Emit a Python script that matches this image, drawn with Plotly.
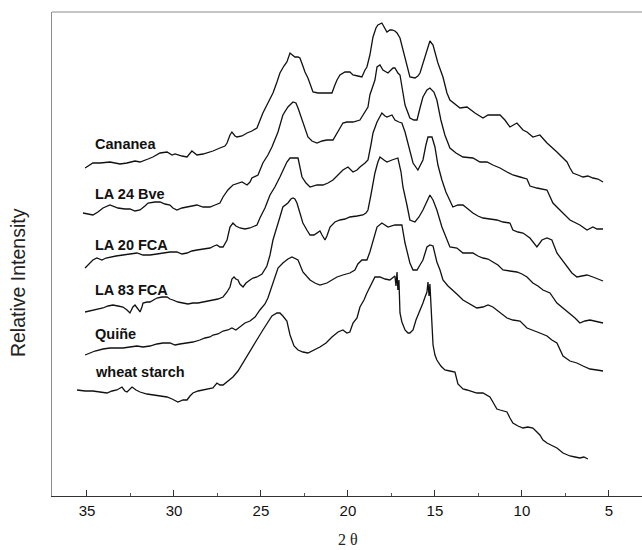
import plotly.graph_objects as go

# ---- data: 2-theta (deg) and relative intensity (a.u., stacked as plotted) ----
cananea_2t = [35.11,34.66,34.25,33.68,33.10,32.70,32.24,31.95,31.49,31.21,30.80,30.40,30.11,29.94,29.54,29.25,28.97,28.79,28.68,28.33,28.10,27.76,27.36,27.07,26.95,26.78,26.67,26.49,26.38,26.09,25.80,25.52,25.23,25.06,24.89,24.60,24.31,24.08,23.91,23.68,23.51,23.33,23.16,23.05,22.87,22.76,22.59,22.47,22.30,22.18,22.01,21.72,21.44,21.15,20.92,20.75,20.63,20.46,20.17,19.89,19.71,19.43,19.20,19.02,18.91,18.74,18.56,18.39,18.28,18.05,17.87,17.76,17.59,17.47,17.30,17.18,17.01,16.84,16.72,16.55,16.44,16.15,15.98,15.86,15.63,15.46,15.29,15.11,14.94,14.83,14.54,14.31,14.14,13.85,13.56,13.16,12.70,12.24,11.95,11.55,11.26,10.98,10.69,10.29,9.94,9.71,9.37,8.97,8.56,7.99,7.64,7.41,7.24,7.07,6.78,6.49,6.21,5.92,5.63,5.34]
cananea_i = [328,333,333,334,332,333,335,334,337,339,343,344,341,342,340,339,345,343,341,342,343,345,348,350,353,361,364,360,359,360,363,365,368,376,383,393,403,414,423,430,434,443,440,439,439,438,430,424,418,413,404,403,403,403,403,411,416,421,424,424,421,420,419,426,429,441,459,468,471,473,468,464,466,466,465,463,458,446,436,426,419,418,420,423,436,446,455,451,441,433,419,403,396,392,388,389,383,378,381,381,381,376,369,373,366,364,359,361,353,344,338,334,328,323,321,319,320,318,317,314]

la24_2t = [35.23,34.94,34.66,34.37,34.08,33.68,33.22,32.82,32.53,32.24,31.95,31.67,31.49,31.09,30.80,30.52,30.23,30.06,29.83,29.54,29.25,28.97,28.68,28.33,27.93,27.64,27.36,27.18,26.90,26.61,26.32,26.09,25.80,25.63,25.52,25.17,24.89,24.60,24.37,24.02,23.74,23.56,23.45,23.16,22.99,22.87,22.70,22.59,22.30,22.07,21.78,21.49,21.21,20.86,20.63,20.46,20.29,20.06,19.71,19.31,19.02,18.85,18.74,18.45,18.33,18.16,17.99,17.70,17.41,17.30,17.13,17.01,16.72,16.44,16.21,16.03,15.86,15.69,15.46,15.29,15.06,14.89,14.66,14.43,14.14,13.79,13.39,12.82,12.41,12.01,11.67,11.26,10.86,10.52,10.11,9.71,9.54,9.14,8.56,8.22,7.82,7.24,6.67,6.26,5.92,5.69,5.34]
la24_i = [283,282,281,284,288,291,288,287,287,285,286,290,293,294,294,292,291,288,286,288,289,290,291,289,289,291,293,299,306,311,313,314,311,314,318,321,333,341,349,364,381,386,389,394,393,388,379,373,359,355,353,355,356,356,363,368,373,374,374,376,384,389,401,416,429,431,426,423,428,428,423,421,391,378,376,376,388,399,406,408,404,396,376,361,348,343,339,338,334,334,331,328,324,321,319,317,310,308,306,293,286,276,271,266,269,267,267]

la20_2t = [35.11,34.94,34.83,34.66,34.43,34.14,33.91,33.68,33.33,32.93,32.53,32.13,31.78,31.38,30.98,30.63,30.23,29.83,29.54,29.25,28.97,28.68,28.33,27.93,27.70,27.53,27.36,27.18,26.95,26.78,26.61,26.44,26.21,25.92,25.63,25.23,25.06,24.77,24.48,24.20,23.91,23.68,23.51,23.33,23.05,22.87,22.64,22.41,22.18,21.78,21.44,21.15,20.86,20.57,20.29,20.00,19.71,19.48,19.31,19.02,18.85,18.68,18.56,18.33,18.16,18.05,17.87,17.76,17.47,17.30,17.07,16.90,16.72,16.61,16.44,16.26,15.98,15.86,15.69,15.52,15.40,15.17,15.00,14.83,14.60,14.37,14.14,13.97,13.68,13.39,13.10,12.82,12.53,12.24,11.84,11.44,11.09,10.69,10.52,10.23,9.94,9.54,9.14,8.85,8.56,8.28,7.99,7.70,7.41,7.13,6.84,6.55,6.26,5.92,5.63,5.34]
la20_i = [228,231,233,236,238,236,238,239,240,241,242,243,241,241,242,243,244,244,242,243,245,246,247,248,250,251,249,249,256,269,273,270,268,267,268,271,278,288,301,309,319,328,334,338,338,338,319,313,309,311,311,313,316,321,326,329,324,326,329,333,336,351,363,374,380,383,380,379,381,376,374,373,364,356,344,333,326,330,336,351,359,359,349,331,316,304,296,289,291,291,287,283,280,278,277,276,274,273,266,264,263,258,249,256,258,256,243,236,229,223,219,220,221,219,217,215]

la83_2t = [35.11,34.83,34.66,34.37,34.08,33.79,33.51,33.22,32.93,32.70,32.53,32.36,32.24,32.07,31.95,31.84,31.78,31.55,31.38,30.98,30.69,30.40,30.23,30.06,29.77,29.48,29.20,28.91,28.62,28.33,28.05,27.76,27.47,27.18,26.95,26.78,26.67,26.55,26.44,26.32,26.21,26.03,25.86,25.63,25.46,25.23,24.94,24.66,24.48,24.31,24.08,23.91,23.74,23.45,23.28,23.16,23.05,22.93,22.76,22.59,22.36,22.18,21.95,21.72,21.61,21.49,21.32,21.21,21.03,20.75,20.46,20.17,19.89,19.48,19.14,18.97,18.85,18.68,18.45,18.28,18.16,17.93,17.76,17.47,17.30,17.13,16.95,16.84,16.61,16.44,16.15,15.92,15.69,15.46,15.29,15.11,14.89,14.60,14.37,14.14,13.74,13.39,12.82,12.53,12.24,11.95,11.67,11.38,11.09,10.69,10.29,10.00,9.71,9.37,9.08,8.79,8.39,7.99,7.64,7.24,6.95,6.67,6.38,6.09,5.69,5.34]
la83_i = [184,185,186,187,188,190,191,190,189,186,183,189,191,187,184,189,193,194,194,198,199,199,197,196,194,193,192,193,193,194,195,196,197,199,204,209,217,219,217,216,212,209,213,216,218,219,222,230,241,256,268,279,289,293,297,298,297,293,283,273,266,261,261,264,265,261,256,260,269,274,276,277,279,280,281,283,286,301,323,334,339,336,334,336,337,338,324,309,291,276,274,279,286,295,301,296,286,269,258,249,248,243,243,240,238,237,234,231,226,225,224,222,219,213,210,206,203,193,188,183,178,173,175,176,174,173]

quine_2t = [35.11,34.83,34.54,34.08,33.68,33.28,32.93,32.53,32.13,31.78,31.38,30.98,30.63,30.23,29.94,29.66,29.25,28.91,28.51,28.22,27.93,27.76,27.47,27.18,26.90,26.67,26.44,26.21,25.92,25.63,25.34,25.06,24.77,24.60,24.31,24.02,23.74,23.45,23.22,22.99,22.87,22.59,22.36,22.18,21.90,21.61,21.21,20.92,20.63,20.29,19.89,19.60,19.43,19.20,18.91,18.74,18.56,18.33,18.05,17.87,17.70,17.30,16.90,16.72,16.55,16.44,16.26,16.03,15.86,15.69,15.46,15.29,15.11,14.89,14.71,14.54,14.25,13.97,13.68,13.39,12.99,12.59,12.24,11.95,11.67,11.26,10.86,10.52,10.11,9.71,9.37,8.97,8.56,8.28,7.99,7.64,7.24,6.84,6.49,6.09,5.69,5.34]
quine_i = [141,143,145,147,148,148,148,149,150,149,150,152,153,153,151,152,153,154,156,158,159,161,162,165,166,168,166,169,173,175,179,186,192,198,214,228,233,237,239,237,236,224,219,216,213,211,213,216,219,221,223,226,232,236,236,244,256,269,273,271,269,271,271,253,241,233,226,226,231,236,249,251,250,234,226,216,210,206,201,196,192,188,189,191,189,183,178,176,175,168,166,163,160,156,153,140,135,133,130,127,126,125]

wheat_2t = [35.57,35.11,34.66,34.25,33.85,33.56,33.28,32.99,32.82,32.70,32.53,32.41,32.18,31.95,31.55,31.21,30.80,30.40,30.11,29.77,29.48,29.25,29.08,28.91,28.62,28.33,28.05,27.76,27.53,27.36,27.18,26.90,26.61,26.32,26.03,25.75,25.46,25.17,24.89,24.60,24.37,24.08,23.91,23.74,23.51,23.33,23.10,22.87,22.59,22.30,21.95,21.61,21.26,20.92,20.57,20.29,20.06,19.89,19.71,19.48,19.31,19.08,18.91,18.68,18.45,18.16,17.87,17.59,17.41,17.30,17.24,17.18,17.13,17.07,17.01,16.90,16.72,16.55,16.44,16.26,16.09,15.86,15.69,15.57,15.46,15.40,15.34,15.29,15.23,15.17,15.11,15.00,14.89,14.66,14.43,14.14,13.85,13.68,13.39,13.16,12.82,12.59,12.24,11.84,11.67,11.44,11.26,10.86,10.69,10.52,10.23,9.94,9.66,9.37,9.14,8.97,8.79,8.56,8.22,7.99,7.64,7.24,6.95,6.67,6.44,6.21]
wheat_i = [106,105,105,104,103,105,106,109,105,104,107,109,106,104,102,101,100,99,97,94,96,96,100,103,105,106,107,108,113,111,111,115,119,125,133,141,149,158,166,174,180,183,183,180,175,161,150,146,144,143,146,149,153,159,164,166,163,164,173,178,189,196,203,211,219,219,217,216,218,220,210,224,206,216,183,174,166,163,163,166,176,185,193,199,204,214,200,212,191,178,151,141,136,130,126,125,124,112,107,106,104,103,103,99,94,87,86,84,78,73,70,68,69,68,64,61,56,53,50,48,43,40,39,38,39,37]

series = [
    ("Cananea", cananea_2t, cananea_i),
    ("LA 24 Bve", la24_2t, la24_i),
    ("LA 20 FCA", la20_2t, la20_i),
    ("LA 83 FCA", la83_2t, la83_i),
    ("Quiñe", quine_2t, quine_i),
    ("wheat starch", wheat_2t, wheat_i),
]
label_x = 34.66
label_y = [352, 302, 251, 206, 162, 124]
x_ticks = [35, 30, 25, 20, 15, 10, 5]

fig = go.Figure()
for name, xs, ys in series:
    fig.add_trace(go.Scatter(x=xs, y=ys, mode="lines", name=name,
                             line=dict(color="#111111", width=1.3),
                             showlegend=False, hoverinfo="skip"))

for (name, _, _), ly in zip(series, label_y):
    fig.add_annotation(x=label_x, y=ly, xref="x", yref="y", text="<b>%s</b>" % name,
                       showarrow=False, xanchor="left", yanchor="middle",
                       font=dict(family="Liberation Sans, Arial", size=14.5, color="#111111"))

fig.add_annotation(x=-0.0576, y=0.44, xref="paper", yref="paper", text="Relative Intensity",
                   textangle=-90, showarrow=False, xanchor="center", yanchor="middle",
                   font=dict(family="Liberation Sans, Arial", size=19.5, color="#222222"))
fig.add_annotation(x=20, y=-0.089, xref="x", yref="paper", text="2 θ",
                   showarrow=False, xanchor="center", yanchor="middle",
                   font=dict(family="Liberation Serif, Times New Roman", size=16, color="#222222"))

fig.add_shape(type="line", xref="paper", yref="paper", x0=0, x1=1, y0=1, y1=1,
              line=dict(color="#8a8a8a", width=1))

fig.update_layout(
    width=642, height=550,
    margin=dict(l=52, r=0, t=12, b=54),
    paper_bgcolor="white", plot_bgcolor="white",
    xaxis=dict(range=[37.01, 3.10], tickvals=x_ticks, ticktext=[str(v) for v in x_ticks],
               ticks="inside", ticklen=6, tickcolor="#333333", tickwidth=1,
               minor=dict(ticks="inside", ticklen=3, tickcolor="#555555", tickvals=[32.5, 27.5, 22.5, 17.5, 12.5, 7.5]),
               showline=True, linecolor="#333333", linewidth=1, showgrid=False, zeroline=False,
               ticklabelstandoff=1,
               tickfont=dict(family="Liberation Sans, Arial", size=15, color="#111111")),
    yaxis=dict(range=[0, 484], showticklabels=False, ticks="", showgrid=False, zeroline=False,
               showline=True, linecolor="#8a8a8a", linewidth=1),
)

fig.write_html("out.html")
